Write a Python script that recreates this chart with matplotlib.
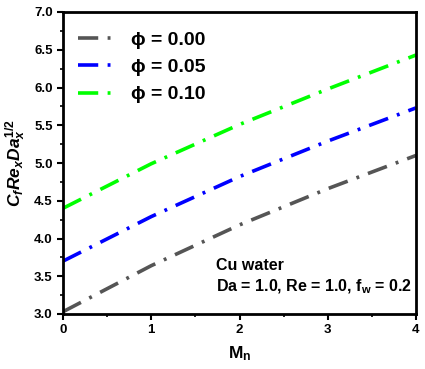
import matplotlib
matplotlib.use("Agg")
import matplotlib.pyplot as plt
from matplotlib.ticker import MultipleLocator

plt.rcParams['font.family'] = ['Liberation Sans', 'DejaVu Sans']
plt.rcParams['font.weight'] = 'bold'
plt.rcParams['mathtext.fontset'] = 'custom'
plt.rcParams['mathtext.rm'] = 'Liberation Sans:bold'
plt.rcParams['mathtext.it'] = 'Liberation Sans:bold:italic'
plt.rcParams['mathtext.bf'] = 'Liberation Sans:bold'

# data
mn = [0, 1, 2, 3, 4]
cf_000 = [3.03, 3.64, 4.18, 4.66, 5.10]
cf_005 = [3.70, 4.29, 4.82, 5.29, 5.73]
cf_010 = [4.40, 4.99, 5.51, 5.98, 6.43]
labels = ["ϕ = 0.00", "ϕ = 0.05", "ϕ = 0.10"]
colors = ["#555555", "#0000ff", "#00ff00"]

fig = plt.figure(figsize=(4.25, 3.69), dpi=100)
ax = fig.add_axes([63 / 425, 1 - 314 / 369, (416 - 63) / 425, (314 - 12) / 369])

for ys, lab, c in zip([cf_000, cf_005, cf_010], labels, colors):
    ax.plot(mn, ys, color=c, lw=2.6, dashes=(5.6, 2.6, 0.8, 2.6), label=lab)

ax.set_xlim(0, 4)
ax.set_ylim(3.0, 7.0)
ax.xaxis.set_major_locator(MultipleLocator(1))
ax.xaxis.set_minor_locator(MultipleLocator(0.5))
ax.yaxis.set_major_locator(MultipleLocator(0.5))
ax.yaxis.set_minor_locator(MultipleLocator(0.25))
ax.tick_params(which='major', direction='out', length=4, width=1.5, labelsize=9.5)
ax.tick_params(which='minor', direction='out', length=2, width=1.2)
ax.set_yticklabels([f"{v:.1f}" for v in ax.get_yticks()])
for s in ax.spines.values():
    s.set_linewidth(2)

ax.set_xlabel(r"$\mathrm{M}_\mathrm{n}$", fontsize=12.5, labelpad=6)
ax.set_ylabel(r"$C_{f}Re_{x}Da_{x}^{1/2}$", fontsize=12.5, labelpad=4)

leg = ax.legend(loc='upper left', bbox_to_anchor=(0.0, 0.985), fontsize=14,
                frameon=False, handlelength=1.9, handletextpad=0.85,
                labelspacing=0.5, borderaxespad=0.25, borderpad=0.5)

ax.text(0.433, 0.145, "Cu water", transform=ax.transAxes, fontsize=11.5)
ax.text(0.433, 0.075, r"Da = 1.0, Re = 1.0, f$_\mathrm{w}$ = 0.2",
        transform=ax.transAxes, fontsize=11.5)

fig.savefig("out.png", dpi=100)
